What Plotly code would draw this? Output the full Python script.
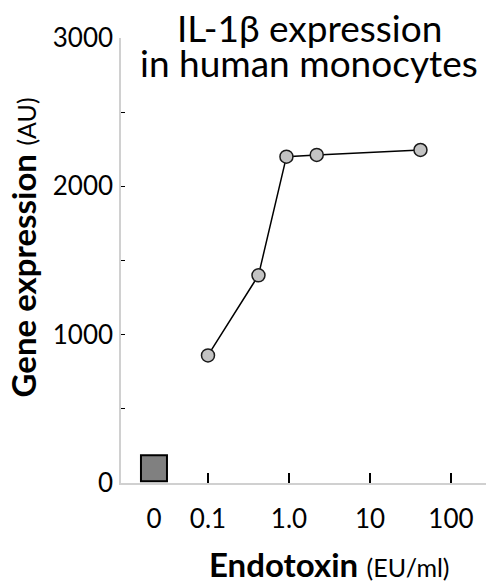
import numpy as np
import plotly.graph_objects as go

# ---- data ----
dose = [0.1, 0.42, 0.93, 2.2, 42]            # endotoxin EU/ml
expression = [860, 1400, 2200, 2212, 2245]    # gene expression AU
control_value = [100]                         # "0" EU/ml control
x_tick_text = ["0", "0.1", "1.0", "10", "100"]
x_tick_vals = [0.1, 1, 10, 100]
y_tick_vals = [0, 1000, 2000, 3000]
title_lines = ["IL-1β expression", "in human monocytes"]

ZERO_POS = 10 ** -1.667   # where the "0" category sits on the log axis
FONT = "Lato"

fig = go.Figure()
fig.add_trace(go.Scatter(
    x=dose, y=expression, mode="lines+markers",
    line=dict(color="black", width=1.5),
    marker=dict(size=13, color="#c3c3c3", line=dict(color="#1a1a1a", width=1.5)),
    showlegend=False, cliponaxis=False))
fig.add_trace(go.Scatter(
    x=[ZERO_POS], y=control_value, mode="markers",
    marker=dict(symbol="square", size=26, color="#808080",
                line=dict(color="black", width=2)),
    showlegend=False, cliponaxis=False))

# page body has an 8px margin, so the figure is 8px smaller than the window
fig.update_layout(
    width=486, height=573,
    margin=dict(l=113, r=0, t=30, b=98, autoexpand=False),
    paper_bgcolor="white", plot_bgcolor="white",
    font=dict(family=FONT, color="black"),
    annotations=[
        dict(text=title_lines[0], xref="paper", yref="paper", x=0.505, y=1.024,
             xanchor="center", yanchor="middle", showarrow=False,
             font=dict(size=37, family=FONT)),
        dict(text=title_lines[1], xref="paper", yref="paper", x=0.505, y=0.944,
             xanchor="center", yanchor="middle", showarrow=False,
             font=dict(size=37, family=FONT)),
        dict(text="<b>Endotoxin</b> <span style='font-size:25px'>(EU/ml)</span>",
             xref="paper", yref="paper", x=0.558, y=-0.181,
             xanchor="center", yanchor="middle", showarrow=False,
             font=dict(size=33, family=FONT)),
        dict(text="<b>Gene expression</b> <span style='font-size:25px'>(AU)</span>",
             xref="paper", yref="paper", x=-0.262, y=0.530, textangle=-90,
             xanchor="center", yanchor="middle", showarrow=False,
             font=dict(size=33, family=FONT)),
    ],
)
fig.update_xaxes(
    type="log", range=[-2.074, 2.531],
    tickmode="array", tickvals=[ZERO_POS] + x_tick_vals, ticktext=x_tick_text,
    ticks="", tickfont=dict(size=26), ticklabelstandoff=12,
    minor=dict(tickmode="array", tickvals=x_tick_vals, ticks="inside",
               ticklen=10, tickwidth=1.8, tickcolor="black", showgrid=False),
    showline=True, linecolor="#d0d0d0", linewidth=1.5,
    showgrid=False, zeroline=False,
)
fig.update_yaxes(
    range=[0, 3000], tickmode="array", tickvals=y_tick_vals,
    ticks="inside", ticklen=4, tickwidth=1.2, tickcolor="black",
    tickfont=dict(size=26), ticklabelstandoff=1,
    minor=dict(dtick=500, ticks="inside", ticklen=4, tickwidth=1.2,
               tickcolor="black", showgrid=False),
    showline=True, linecolor="#d0d0d0", linewidth=1.5,
    showgrid=False, zeroline=False,
)

fig.write_html("out.html")
